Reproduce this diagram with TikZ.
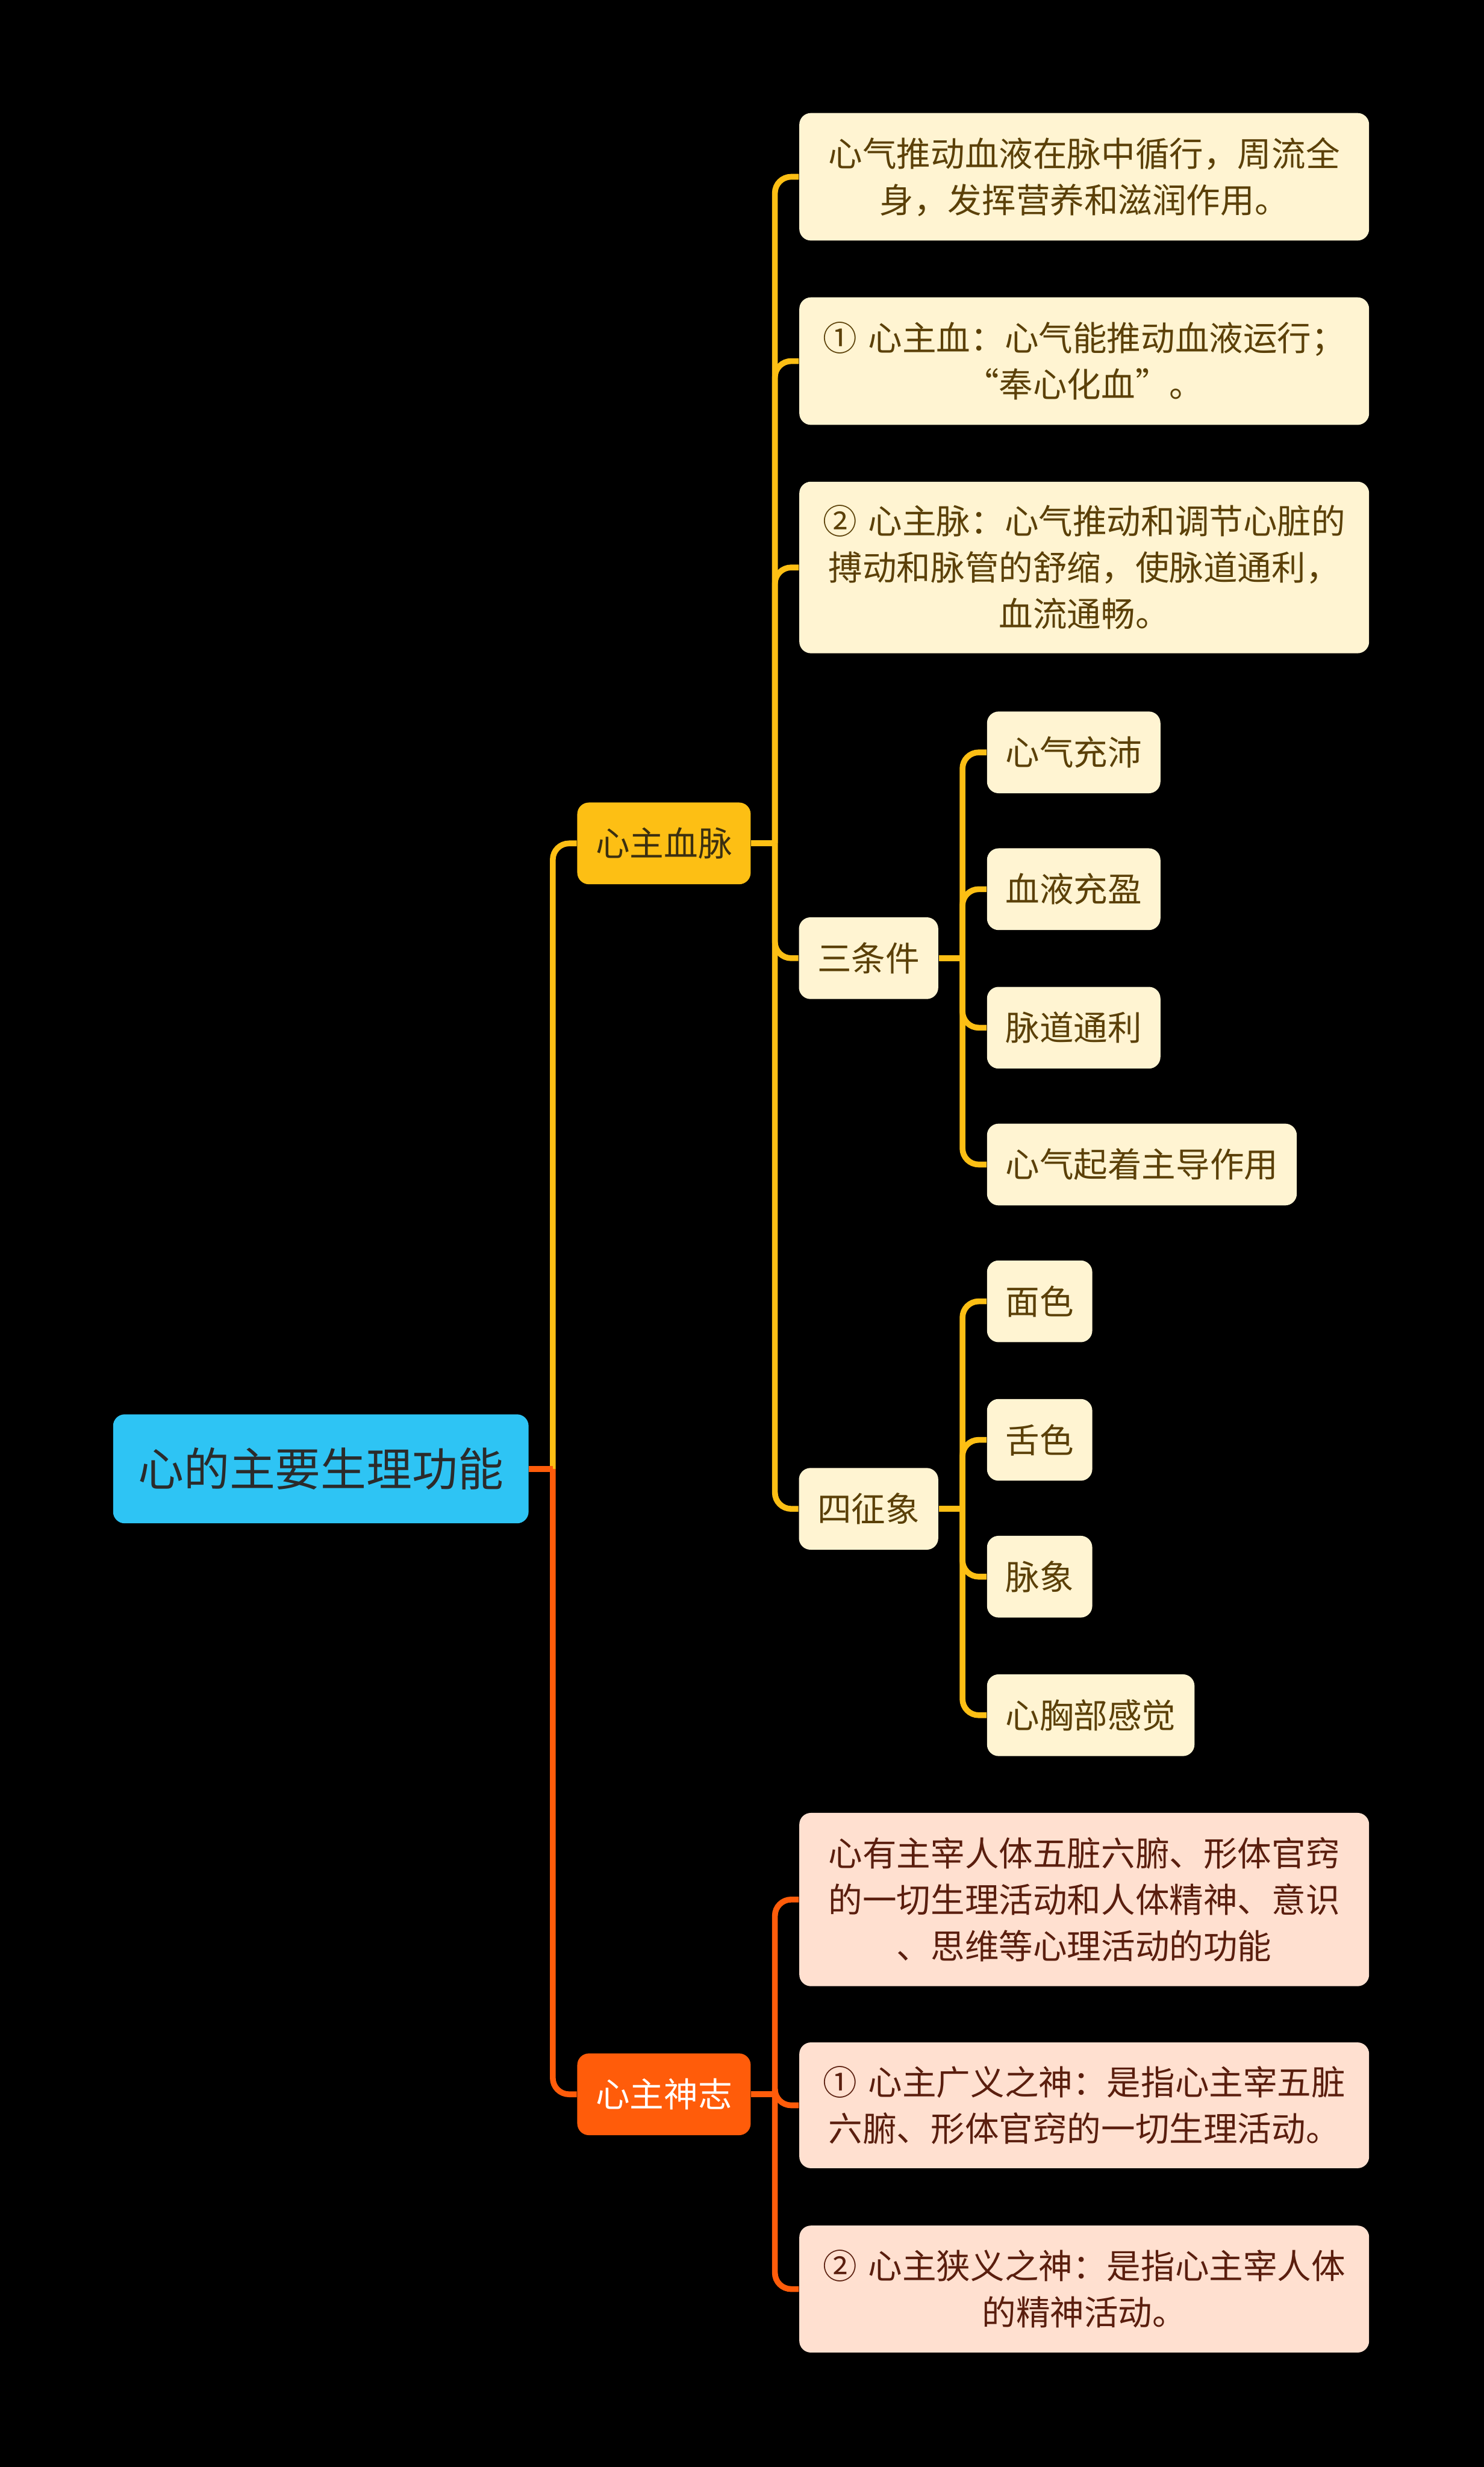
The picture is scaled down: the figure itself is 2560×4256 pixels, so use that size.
\documentclass[tikz,border=0pt]{standalone}
\usepackage{fontspec}
\newfontfamily\cjk{Noto Sans CJK SC}
\definecolor{rootblue}{HTML}{2EC4F4}
\definecolor{bloodyel}{HTML}{FDBF14}
\definecolor{mindorg}{HTML}{FF5C0A}
\definecolor{creamleaf}{HTML}{FFF4D2}
\definecolor{peachleaf}{HTML}{FFE0D0}
\definecolor{topictext}{HTML}{3B2F10}
\definecolor{yeltext}{HTML}{5B4008}
\definecolor{orgtext}{HTML}{5A1E0E}
\definecolor{roottext}{HTML}{2B2B2B}

\begin{document}
\begin{tikzpicture}[x=0.25pt, y=-0.25pt,
    box/.style={rounded corners=5pt, inner xsep=8pt, inner ysep=0pt, minimum height=35.25pt,
        font=\cjk\fontsize{14.7}{20}\selectfont, align=center},
    rootbox/.style={box, fill=rootblue, text=roottext, minimum height=47pt, inner xsep=10.8pt,
        font=\cjk\fontsize{19.7}{24}\selectfont},
    topicyel/.style={box, fill=bloodyel, text=topictext},
    topicorg/.style={box, fill=mindorg, text=white},
    yelleaf/.style={box, fill=creamleaf, text=yeltext},
    orgleaf/.style={box, fill=peachleaf, text=orgtext},
    wide/.style={minimum width=245.75pt, text width=229.75pt},
    ylink/.style={draw=bloodyel, line width=2.5pt, rounded corners=7pt},
    olink/.style={draw=mindorg, line width=2.5pt, rounded corners=7pt}]

    \fill[black] (0,0) rectangle (2560,4256);

    \node[rootbox] (root) at (553.5,2534) {心的主要生理功能};
    \node[topicyel] (xzxm) at (1145.5,1455) {心主血脉};
    \node[topicorg] (xzsz) at (1145.5,3613) {心主神志};

    \node[yelleaf, wide, minimum height=55pt] (xm1) at (1870.5,305) {心气推动血液在脉中循行，周流全\\身，发挥营养和滋润作用。};
    \node[yelleaf, wide, minimum height=55pt] (xm2) at (1870.5,623) {① 心主血：心气能推动血液运行；\\“奉心化血”。};
    \node[yelleaf, wide, minimum height=74pt] (xm3) at (1870.5,979) {② 心主脉：心气推动和调节心脏的\\搏动和脉管的舒缩，使脉道通利，\\血流通畅。};
    \node[yelleaf] (stj) at (1498.5,1653) {三条件};
    \node[yelleaf] (szx) at (1498.5,2603) {四征象};

    \node[yelleaf, anchor=west] (stj1) at (1702,1298) {心气充沛};
    \node[yelleaf, anchor=west] (stj2) at (1702,1534) {血液充盈};
    \node[yelleaf, anchor=west] (stj3) at (1702,1773) {脉道通利};
    \node[yelleaf, anchor=west] (stj4) at (1702,2009) {心气起着主导作用};

    \node[yelleaf, anchor=west] (szx1) at (1702,2245) {面色};
    \node[yelleaf, anchor=west] (szx2) at (1702,2484) {舌色};
    \node[yelleaf, anchor=west] (szx3) at (1702,2720) {脉象};
    \node[yelleaf, anchor=west] (szx4) at (1702,2959) {心胸部感觉};

    \node[orgleaf, wide, minimum height=74.75pt] (sz1) at (1870.5,3277) {心有主宰人体五脏六腑、形体官窍\\的一切生理活动和人体精神、意识\\、思维等心理活动的功能};
    \node[orgleaf, wide, minimum height=54.25pt] (sz2) at (1870.5,3632) {① 心主广义之神：是指心主宰五脏\\六腑、形体官窍的一切生理活动。};
    \node[orgleaf, wide, minimum height=54.75pt] (sz3) at (1870.5,3949) {② 心主狭义之神：是指心主宰人体\\的精神活动。};

    \path (root.east) ++(41,0) coordinate (t0);
    \path (xzxm.east) ++(41,0) coordinate (t1);
    \path (stj.east) ++(41,0) coordinate (t2);
    \path (szx.east) ++(41,0) coordinate (t3);
    \path (xzsz.east) ++(41,0) coordinate (t4);

    \draw[ylink] (t0) |- (xzxm.west);
    \draw[olink] (t0) |- (xzsz.west);
    \draw[olink] (root.east) -- (t0);

    \draw[ylink] (xzxm.east) -- (t1);
    \foreach \c in {xm1,xm2,xm3,stj,szx}
        \draw[ylink] (t1) |- (\c.west);
    \draw[ylink] (stj.east) -- (t2);
    \foreach \c in {stj1,stj2,stj3,stj4}
        \draw[ylink] (t2) |- (\c.west);
    \draw[ylink] (szx.east) -- (t3);
    \foreach \c in {szx1,szx2,szx3,szx4}
        \draw[ylink] (t3) |- (\c.west);
    \draw[olink] (xzsz.east) -- (t4);
    \foreach \c in {sz1,sz2,sz3}
        \draw[olink] (t4) |- (\c.west);
\end{tikzpicture}
\end{document}
